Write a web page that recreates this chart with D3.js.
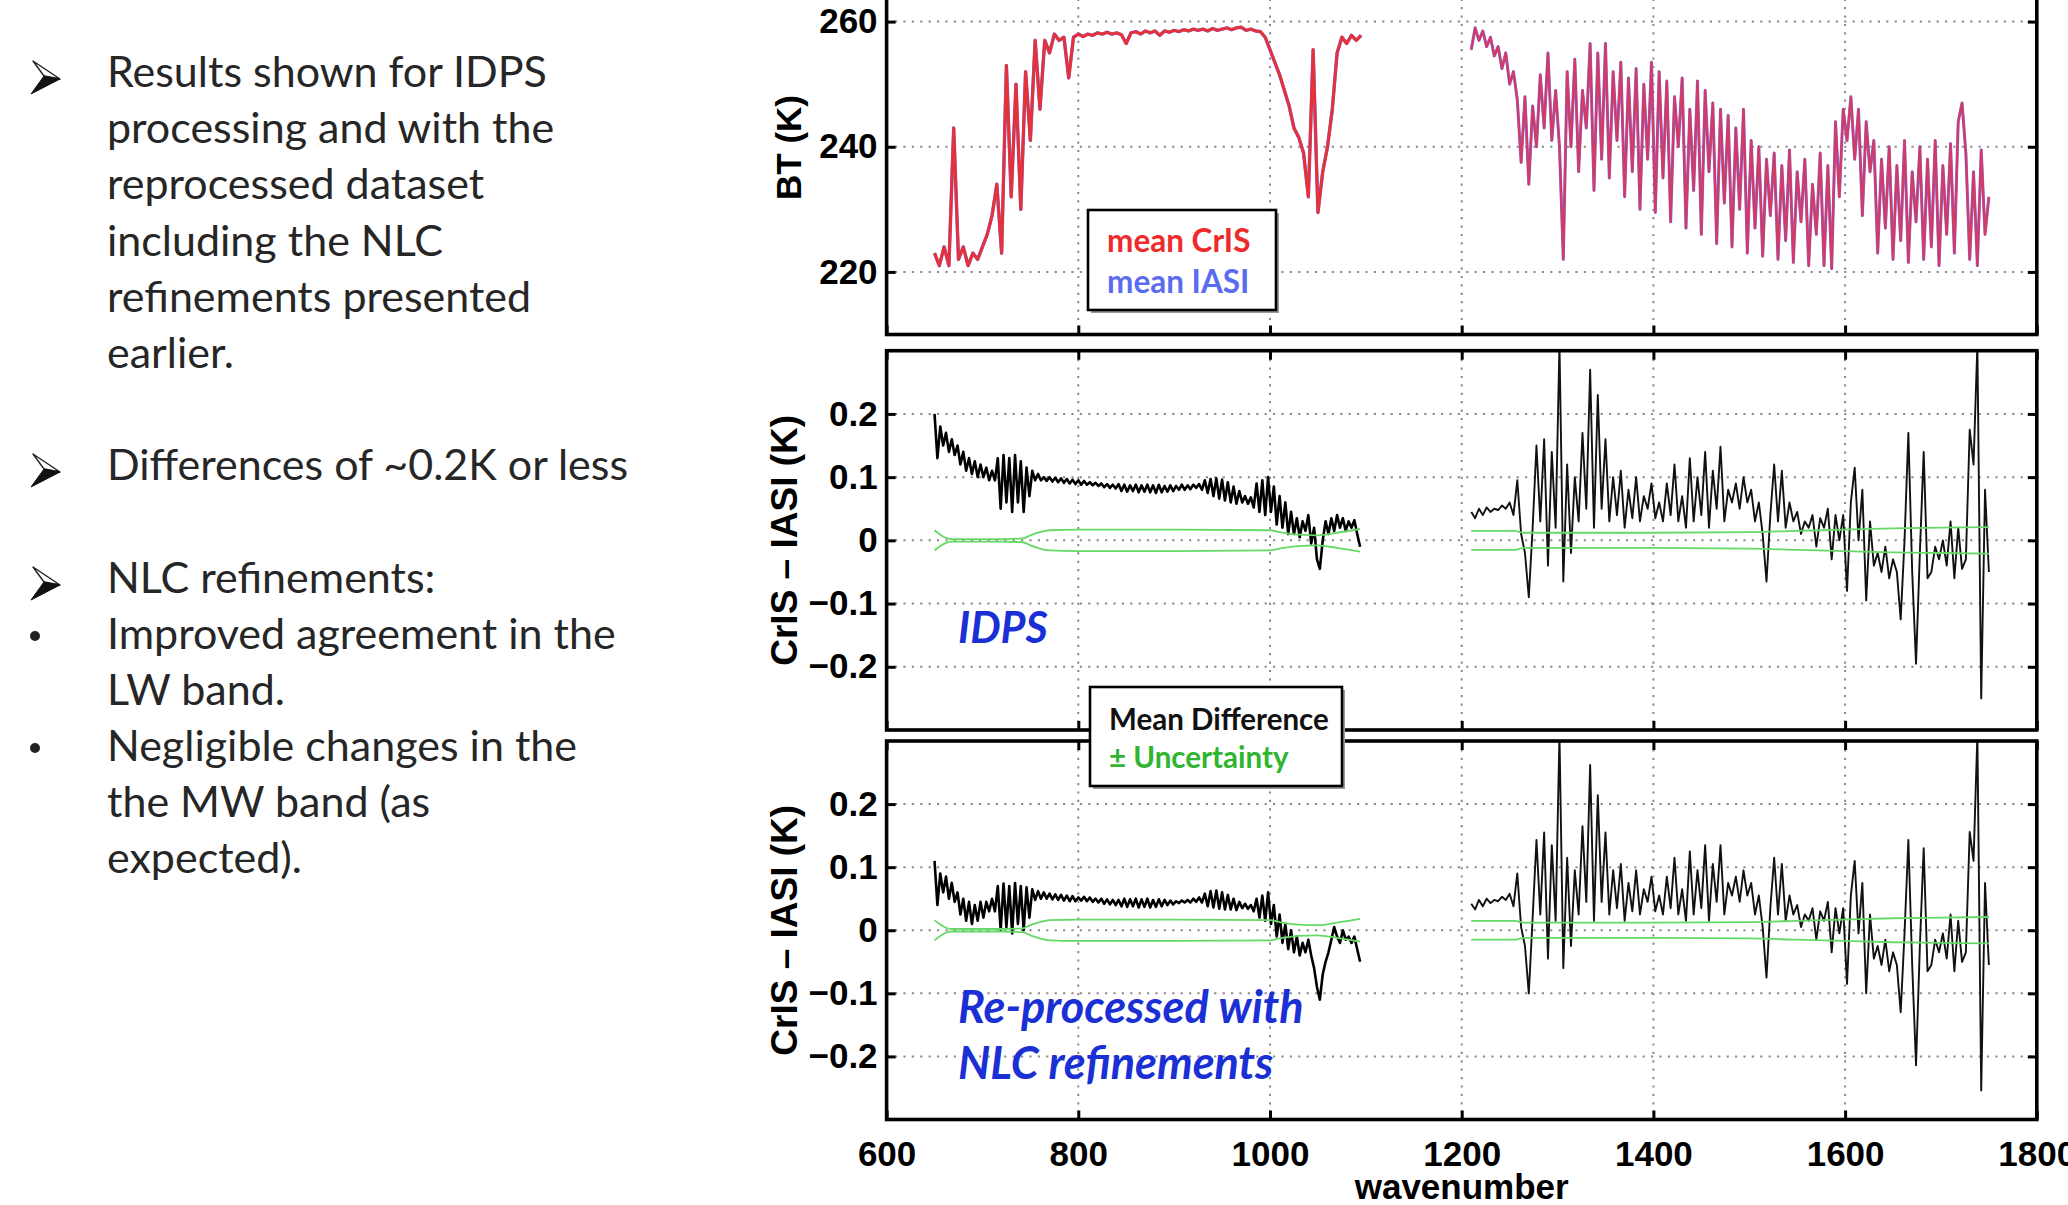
<!DOCTYPE html>
<html><head><meta charset="utf-8">
<script src="https://cdn.jsdelivr.net/npm/d3@7"></script>
<style>
html,body{margin:0;padding:0;background:#fff;}
svg{display:block;}
</style></head>
<body>
<svg id="chart" width="2068" height="1205"></svg>
<script>
// ---------------- DATA ----------------
const xTickValues = [600, 800, 1000, 1200, 1400, 1600, 1800];
const xGridValues = [800, 1000, 1200, 1400, 1600];
const btTickValues = [220, 240, 260];
const diffTickValues = [-0.2, -0.1, 0, 0.1, 0.2];

// Brightness temperature, LW band: 650 cm-1, step 5
const btLwStart = 650, btLwStep = 5;
const btCrIS_LW = [
  223, 221, 224, 221, 243, 222, 224, 221, 223, 222,
  224, 226, 229, 234, 223, 253, 232, 250, 230, 252,
  241, 257, 246, 257, 255, 258, 257, 257.5, 251, 257.5,
  258, 257.6, 258, 257.8, 258.2, 258, 258.3, 258, 258.2, 257.9,
  256.5, 258.2, 258.4, 258, 258.5, 258.2, 258.5, 257.8, 258.5, 258.3,
  258.6, 258.4, 258.7, 258.5, 258.8, 258.6, 258.8, 258.5, 258.9, 258.6,
  258.8, 259, 258.7, 259, 259.1, 258.6, 258.8, 258.5, 258.4, 257.5,
  255.5, 253.5, 251.5, 249, 246.5, 243, 241.5, 239, 232, 255.5,
  229.5, 236, 240, 246, 255, 257.5, 256.5, 257.8, 257, 257.8
];
// Brightness temperature, MW band: 1210 cm-1, step 4
const btMwStart = 1210, btMwStep = 4;
const btCrIS_MW = [
  255.5, 259, 257, 258.5, 256, 257.5, 254.5, 256, 252.5, 255,
  250, 252, 247.5, 237.5, 248, 234, 246.5, 240, 251.5, 243,
  255, 241, 249, 240, 222, 252, 240, 254, 236, 249,
  243, 256.5, 233, 255, 238, 256.5, 235, 252, 241, 253.5,
  232, 251, 236, 252.5, 230, 250, 238, 253.5, 229.5, 252,
  235, 250.5, 228, 248, 240, 251, 227, 246, 233, 250.5,
  226, 249, 236, 247, 224.5, 246, 231, 245, 224, 243,
  230, 246, 223, 241, 227, 240, 222.5, 238, 229, 239,
  222, 237, 225, 239.5, 221.5, 236, 228, 238, 221, 234,
  226, 239, 221, 237, 220.5, 244, 232, 246, 241, 248,
  238, 246, 229, 244, 236, 241, 223, 238, 227, 240,
  222, 237, 225, 241, 221.5, 236, 228, 240, 222, 238,
  224, 241, 221, 237, 226, 240.5, 223, 244, 247, 239,
  222, 236, 221, 239.5, 226, 232
];
// mean IASI is indistinguishable from mean CrIS at this scale
const btIASI_LW = btCrIS_LW.slice();
const btIASI_MW = btCrIS_MW.slice();

// CrIS - IASI differences, LW band: 650 cm-1, step 3
const diffLwStart = 650, diffLwStep = 3;
const diffIDPS_LW = [
  0.20, 0.13, 0.18, 0.15, 0.17, 0.14, 0.16, 0.135, 0.15, 0.12,
  0.14, 0.11, 0.13, 0.105, 0.125, 0.10, 0.12, 0.10, 0.115, 0.095,
  0.11, 0.095, 0.13, 0.05, 0.135, 0.06, 0.13, 0.045, 0.135, 0.06,
  0.125, 0.045, 0.115, 0.07, 0.11, 0.095, 0.105, 0.095, 0.10, 0.094,
  0.10, 0.093, 0.099, 0.092, 0.098, 0.091, 0.097, 0.09, 0.096, 0.089,
  0.095, 0.088, 0.094, 0.088, 0.092, 0.087, 0.091, 0.086, 0.09, 0.084,
  0.089, 0.083, 0.088, 0.082, 0.089, 0.078, 0.088, 0.077, 0.087, 0.078,
  0.088, 0.076, 0.087, 0.077, 0.088, 0.076, 0.087, 0.075, 0.088, 0.076,
  0.086, 0.077, 0.087, 0.078, 0.086, 0.08, 0.088, 0.08, 0.087, 0.081,
  0.088, 0.083, 0.089, 0.08, 0.095, 0.075, 0.097, 0.07, 0.098, 0.066,
  0.096, 0.063, 0.092, 0.06, 0.085, 0.058, 0.078, 0.06, 0.07, 0.058,
  0.068, 0.052, 0.09, 0.045, 0.095, 0.04, 0.10, 0.045, 0.085, 0.025,
  0.07, 0.02, 0.06, 0.01, 0.045, 0.01, 0.035, 0.005, 0.03, 0.015,
  0.04, -0.005, 0.02, -0.03, -0.045, 0.0, 0.03, 0.01, 0.035, 0.015,
  0.04, 0.02, 0.035, 0.015, 0.03, 0.02, 0.032, 0.01, -0.01
];
const diffNLC_LW = [
  0.11, 0.04, 0.09, 0.06, 0.085, 0.05, 0.075, 0.045, 0.06, 0.025,
  0.05, 0.015, 0.045, 0.01, 0.04, 0.015, 0.045, 0.02, 0.045, 0.03,
  0.05, 0.03, 0.07, 0.0, 0.074, 0.005, 0.07, -0.005, 0.075, 0.01,
  0.07, 0.0, 0.068, 0.02, 0.065, 0.048, 0.062, 0.05, 0.06, 0.05,
  0.058, 0.049, 0.057, 0.048, 0.056, 0.047, 0.055, 0.046, 0.054, 0.046,
  0.052, 0.047, 0.053, 0.046, 0.052, 0.045, 0.05, 0.044, 0.05, 0.042,
  0.049, 0.041, 0.048, 0.04, 0.048, 0.038, 0.05, 0.037, 0.049, 0.038,
  0.05, 0.036, 0.049, 0.037, 0.05, 0.036, 0.048, 0.037, 0.049, 0.038,
  0.048, 0.04, 0.047, 0.041, 0.046, 0.043, 0.047, 0.044, 0.048, 0.044,
  0.05, 0.045, 0.052, 0.044, 0.058, 0.038, 0.062, 0.036, 0.063, 0.034,
  0.06, 0.033, 0.056, 0.033, 0.05, 0.032, 0.045, 0.035, 0.042, 0.034,
  0.04, 0.03, 0.05, 0.02, 0.055, 0.015, 0.06, 0.01, 0.04, -0.01,
  0.025, -0.02, 0.01, -0.03, 0.0, -0.035, -0.01, -0.04, -0.02, -0.035,
  -0.015, -0.04, -0.06, -0.09, -0.11, -0.07, -0.05, -0.035, -0.015, 0.005,
  -0.01, -0.02, 0.0, -0.015, -0.01, -0.02, -0.01, -0.03, -0.05
];
// CrIS - IASI differences, MW band: 1210 cm-1, step 4
const diffMwStart = 1210, diffMwStep = 4;
const diffIDPS_MW = [
  0.045, 0.035, 0.05, 0.04, 0.052, 0.045, 0.05, 0.048, 0.055, 0.05,
  0.06, 0.04, 0.095, 0.01, -0.02, -0.09, 0.02, 0.15, 0.03, 0.16,
  -0.04, 0.14, 0.02, 0.31, -0.065, 0.12, -0.02, 0.10, 0.03, 0.17,
  0.05, 0.27, 0.02, 0.23, 0.05, 0.16, 0.03, 0.10, 0.04, 0.11,
  0.02, 0.08, 0.035, 0.10, 0.03, 0.07, 0.05, 0.09, 0.035, 0.06,
  0.03, 0.09, 0.04, 0.12, 0.03, 0.07, 0.02, 0.13, 0.03, 0.10,
  0.04, 0.14, 0.02, 0.11, 0.05, 0.148, 0.03, 0.08, 0.06, 0.09,
  0.05, 0.10, 0.06, 0.08, 0.03, 0.06, 0.01, -0.065, 0.04, 0.12,
  0.03, 0.11, 0.02, 0.06, 0.03, 0.045, 0.01, 0.03, 0.02, 0.04,
  -0.01, 0.035, 0.02, 0.05, -0.03, 0.04, 0.0, 0.04, -0.08, 0.06,
  0.115, 0.0, 0.08, -0.095, 0.03, -0.04, -0.02, -0.05, -0.01, -0.06,
  -0.03, -0.05, -0.125, 0.0, 0.17, -0.05, -0.195, -0.02, 0.14, -0.06,
  -0.05, -0.01, -0.03, 0.0, -0.04, 0.03, -0.06, 0.02, -0.045, -0.03,
  0.175, 0.12, 0.31, -0.25, 0.08, -0.05
];
const diffNLC_MW = [
  0.042, 0.033, 0.048, 0.038, 0.05, 0.043, 0.048, 0.046, 0.053, 0.048,
  0.058, 0.038, 0.09, 0.005, -0.025, -0.1, 0.02, 0.143, 0.025, 0.155,
  -0.045, 0.135, 0.015, 0.31, -0.06, 0.115, -0.025, 0.095, 0.025, 0.165,
  0.045, 0.262, 0.015, 0.214, 0.045, 0.155, 0.025, 0.095, 0.035, 0.105,
  0.015, 0.075, 0.03, 0.095, 0.025, 0.065, 0.045, 0.085, 0.03, 0.055,
  0.025, 0.085, 0.035, 0.115, 0.025, 0.065, 0.015, 0.125, 0.025, 0.095,
  0.035, 0.135, 0.015, 0.105, 0.045, 0.135, 0.025, 0.075, 0.055, 0.085,
  0.045, 0.095, 0.055, 0.075, 0.025, 0.055, 0.005, -0.075, 0.035, 0.115,
  0.025, 0.105, 0.015, 0.055, 0.025, 0.04, 0.005, 0.025, 0.015, 0.035,
  -0.015, 0.03, 0.015, 0.045, -0.035, 0.035, -0.005, 0.035, -0.085, 0.055,
  0.11, -0.005, 0.075, -0.1, 0.025, -0.045, -0.025, -0.055, -0.015, -0.065,
  -0.035, -0.055, -0.13, -0.005, 0.143, -0.055, -0.214, -0.025, 0.13, -0.065,
  -0.055, -0.015, -0.035, -0.005, -0.045, 0.025, -0.065, 0.015, -0.05, -0.035,
  0.156, 0.11, 0.31, -0.254, 0.075, -0.055
];
// uncertainty (half-width, K)
const uncLwWn = [650, 656, 662, 668, 690, 720, 742, 750, 760, 770, 800, 900, 1000, 1010, 1030, 1050, 1070, 1094];
const uncLw   = [0.016, 0.009, 0.004, 0.002, 0.002, 0.002, 0.003, 0.008, 0.013, 0.016, 0.017, 0.017, 0.016, 0.013, 0.009, 0.008, 0.012, 0.018];
const uncMwWn = [1210, 1255, 1265, 1300, 1400, 1500, 1550, 1600, 1650, 1700, 1750];
const uncMw   = [0.015, 0.015, 0.012, 0.012, 0.012, 0.013, 0.015, 0.017, 0.019, 0.02, 0.021];

const legendBT = ["mean CrIS", "mean IASI"];
const legendBTColors = ["#ee2b2b", "#5a6cf0"];
const legendDiff = ["Mean Difference", "\u00b1 Uncertainty"];
const legendDiffColors = ["#111111", "#2fb52f"];

const textBlocks = [
  {marker: "arrow", baseline: 87, lines: ["Results shown for IDPS", "processing and with the", "reprocessed dataset", "including the NLC", "refinements presented", "earlier."]},
  {marker: "arrow", baseline: 480, lines: ["Differences of ~0.2K or less"]},
  {marker: "arrow", baseline: 593, lines: ["NLC refinements:"]},
  {marker: "dot", baseline: 649, lines: ["Improved agreement in the", "LW band."]},
  {marker: "dot", baseline: 761, lines: ["Negligible changes in the", "the MW band (as", "expected)."]}
];

// ---------------- DRAW ----------------
const svg = d3.select("#chart");
svg.append("rect").attr("width", 2068).attr("height", 1205).attr("fill", "#fff");
const defs = svg.append("defs");

const x = d3.scaleLinear().domain([600, 1800]).range([886.6, 2036.8]);
const yBT = d3.scaleLinear().domain([210, 265]).range([334.5, -9.7]);
const yIDPS = d3.scaleLinear().domain([-0.3, 0.3]).range([730, 350.7]);
const yNLC = d3.scaleLinear().domain([-0.3, 0.3]).range([1119.5, 741]);

const toPts = (start, step, vals) => vals.map((v, i) => [start + i * step, v]);
const AXFONT = '"Liberation Sans", Arial, Helvetica, sans-serif';

function panel(y, yTicks, id) {
  const g = svg.append("g");
  const [yb, yt] = y.range();
  const [xl, xr] = x.range();
  defs.append("clipPath").attr("id", "clip-" + id).append("rect")
    .attr("x", xl).attr("y", yt).attr("width", xr - xl).attr("height", yb - yt);
  const grid = g.append("g").attr("stroke", "#8c8c8c").attr("stroke-width", 2)
    .attr("stroke-dasharray", "2.2,6.2");
  grid.selectAll(".gx").data(xGridValues).join("line").attr("class", "gx")
    .attr("x1", d => x(d)).attr("x2", d => x(d)).attr("y1", yt).attr("y2", yb);
  grid.selectAll(".gy").data(yTicks).join("line").attr("class", "gy")
    .attr("x1", xl).attr("x2", xr).attr("y1", d => y(d)).attr("y2", d => y(d));
  const plot = g.append("g").attr("clip-path", `url(#clip-${id})`);
  return {g, plot, yb, yt, xl, xr};
}

function finishPanel(p, y, yTicks, yFmt, showX) {
  const style = s => {
    s.select(".domain").remove();
    s.attr("font-size", 35).attr("font-family", AXFONT).attr("font-weight", "bold");
    s.selectAll("line").attr("stroke", "#000").attr("stroke-width", 3);
    s.selectAll("text").attr("fill", "#000");
  };
  p.g.append("g").attr("transform", `translate(0,${p.yb})`)
    .call(d3.axisBottom(x).tickValues(xTickValues).tickSizeInner(-9).tickSizeOuter(0)
      .tickPadding(22).tickFormat(showX ? d3.format("d") : () => ""))
    .call(style);
  p.g.append("g").attr("transform", `translate(0,${p.yt})`)
    .call(d3.axisTop(x).tickValues(xTickValues).tickSizeInner(-9).tickSizeOuter(0).tickFormat(() => ""))
    .call(style);
  p.g.append("g").attr("transform", `translate(${p.xl},0)`)
    .call(d3.axisLeft(y).tickValues(yTicks).tickSizeInner(-9).tickSizeOuter(0).tickPadding(9).tickFormat(yFmt))
    .call(style);
  p.g.append("g").attr("transform", `translate(${p.xr},0)`)
    .call(d3.axisRight(y).tickValues(yTicks).tickSizeInner(-9).tickSizeOuter(0).tickFormat(() => ""))
    .call(style);
  p.g.append("rect").attr("x", p.xl).attr("y", p.yt).attr("width", p.xr - p.xl).attr("height", p.yb - p.yt)
    .attr("fill", "none").attr("stroke", "#000").attr("stroke-width", 3.6);
}

const diffFmt = d => d === 0 ? "0" : d3.format(".1f")(d);

// --- Panel 1: BT ---
const p1 = panel(yBT, btTickValues, "bt");
const lineBT = d3.line().x(d => x(d[0])).y(d => yBT(d[1]));
p1.plot.append("path").datum(toPts(btLwStart, btLwStep, btIASI_LW)).attr("d", lineBT)
  .attr("fill", "none").attr("stroke", "#6f6ff2").attr("stroke-width", 3.4).attr("stroke-linejoin", "round");
p1.plot.append("path").datum(toPts(btMwStart, btMwStep, btIASI_MW)).attr("d", lineBT)
  .attr("fill", "none").attr("stroke", "#7a6ff0").attr("stroke-width", 3).attr("stroke-linejoin", "round");
p1.plot.append("path").datum(toPts(btLwStart, btLwStep, btCrIS_LW)).attr("d", lineBT)
  .attr("fill", "none").attr("stroke", "#ec2d2d").attr("stroke-width", 3).attr("stroke-opacity", 0.95)
  .attr("stroke-linejoin", "round");
p1.plot.append("path").datum(toPts(btMwStart, btMwStep, btCrIS_MW)).attr("d", lineBT)
  .attr("fill", "none").attr("stroke", "#ea2e3c").attr("stroke-width", 2.3).attr("stroke-opacity", 0.78)
  .attr("stroke-linejoin", "round");
finishPanel(p1, yBT, btTickValues, d3.format("d"), false);

// --- Panels 2 & 3: differences ---
function diffPanel(y, lw, mw, id, showX) {
  const p = panel(y, diffTickValues, id);
  const ln = d3.line().x(d => x(d[0])).y(d => y(d[1]));
  const lnSmooth = d3.line().x(d => x(d[0])).y(d => y(d[1])).curve(d3.curveMonotoneX);
  p.plot.append("path").datum(toPts(diffLwStart, diffLwStep, lw)).attr("d", ln)
    .attr("fill", "none").attr("stroke", "#000").attr("stroke-width", 2.6).attr("stroke-linejoin", "round");
  p.plot.append("path").datum(toPts(diffMwStart, diffMwStep, mw)).attr("d", ln)
    .attr("fill", "none").attr("stroke", "#111").attr("stroke-width", 1.9).attr("stroke-linejoin", "round");
  [[uncLwWn, uncLw], [uncMwWn, uncMw]].forEach(([wn, u]) => {
    [1, -1].forEach(sgn => {
      p.plot.append("path").datum(wn.map((w, i) => [w, sgn * u[i]]))
        .attr("d", lnSmooth)
        .attr("fill", "none").attr("stroke", "#66d866").attr("stroke-width", 1.8);
    });
  });
  finishPanel(p, y, diffTickValues, diffFmt, showX);
  return p;
}
diffPanel(yIDPS, diffIDPS_LW, diffIDPS_MW, "idps", false);
diffPanel(yNLC, diffNLC_LW, diffNLC_MW, "nlc", true);

// --- axis titles ---
svg.append("text").attr("transform", "translate(801,147.5) rotate(-90)")
  .attr("text-anchor", "middle").attr("font-family", AXFONT).attr("font-weight", "bold")
  .attr("font-size", 35).text("BT (K)");
[yIDPS, yNLC].forEach(y => {
  svg.append("text").attr("transform", `translate(797,${y(0)}) rotate(-90)`)
    .attr("text-anchor", "middle").attr("font-family", AXFONT).attr("font-weight", "bold")
    .attr("font-size", 37).text("CrIS \u2013 IASI (K)");
});
svg.append("text").attr("x", x(1200)).attr("y", 1199).attr("text-anchor", "middle")
  .attr("font-family", AXFONT).attr("font-weight", "bold").attr("font-size", 35).text("wavenumber");

// --- annotations ---
const annFont = "Lato, 'Open Sans', sans-serif";
const ann = svg.append("g").attr("font-family", annFont).attr("font-weight", "bold")
  .attr("font-style", "italic").attr("fill", "#1b30d4");
ann.append("text").attr("x", 958).attr("y", 643).attr("font-size", 43).text("IDPS");
ann.append("text").attr("x", 958).attr("y", 1023).attr("font-size", 45).text("Re-processed with");
ann.append("text").attr("x", 958).attr("y", 1079).attr("font-size", 45).text("NLC refinements");

// --- legends ---
function legend(x0, y0, w, h, labels, colors, baselines, fs) {
  const g = svg.append("g");
  g.append("rect").attr("x", x0 + 3).attr("y", y0 + 3).attr("width", w).attr("height", h).attr("fill", "#9a9a9a");
  g.append("rect").attr("x", x0).attr("y", y0).attr("width", w).attr("height", h)
    .attr("fill", "#fff").attr("stroke", "#000").attr("stroke-width", 2.6);
  g.selectAll("text").data(labels).join("text")
    .attr("x", x0 + 19).attr("y", (d, i) => baselines[i])
    .attr("font-family", annFont).attr("font-weight", "bold").attr("font-size", fs)
    .attr("fill", (d, i) => colors[i]).text(d => d);
}
legend(1088, 210, 188, 100, legendBT, legendBTColors, [252, 293], 31.5);
legend(1090, 687, 252, 99, legendDiff, legendDiffColors, [730, 768], 29.5);

// --- left bullet text ---
const lt = svg.append("g").attr("font-family", "Lato, 'Open Sans', sans-serif").attr("font-size", 43).attr("fill", "#262626");
textBlocks.forEach(b => {
  const step = 56.2;
  b.lines.forEach((t, i) => {
    lt.append("text").attr("x", 107).attr("y", b.baseline + i * step).text(t);
  });
  const yb = b.baseline;
  if (b.marker === "arrow") {
    lt.append("path").attr("d", `M33,${yb - 26} L60,${yb - 8} L44,${yb - 11} Z`)
      .attr("fill", "#fff").attr("stroke", "#222").attr("stroke-width", 1.4).attr("stroke-linejoin", "round");
    lt.append("path").attr("d", `M44,${yb - 11} L60,${yb - 8} L31,${yb + 7} Z`)
      .attr("fill", "#111").attr("stroke", "#111").attr("stroke-width", 1).attr("stroke-linejoin", "round");
  } else {
    lt.append("circle").attr("cx", 35).attr("cy", yb - 13).attr("r", 5).attr("fill", "#222");
  }
});
</script>
</body></html>
